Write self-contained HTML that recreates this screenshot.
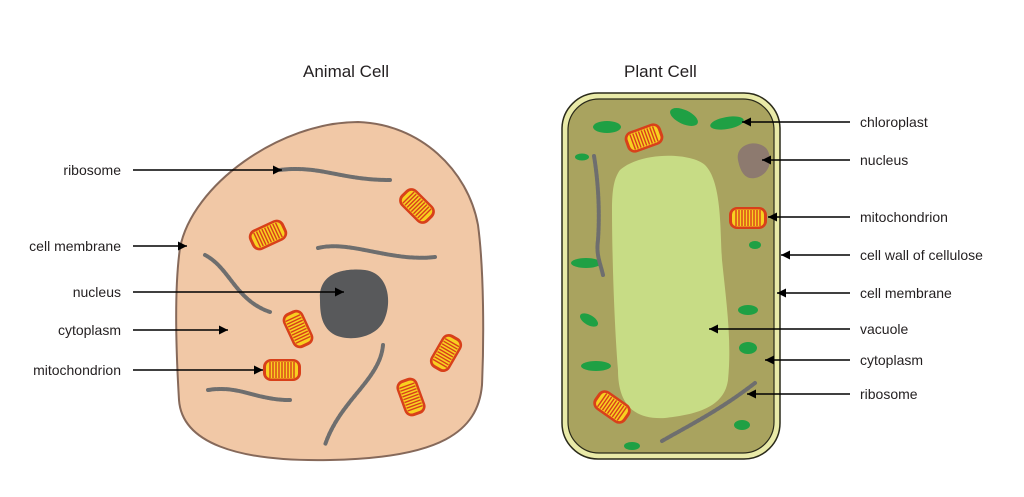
<!DOCTYPE html>
<html><head><meta charset="utf-8"><style>
html,body{margin:0;padding:0;background:#fff;}
svg{display:block;}
text{font-family:"Liberation Sans",sans-serif;font-size:14px;fill:#231f20;}
</style></head><body>
<svg width="1024" height="497" viewBox="0 0 1024 497" xmlns="http://www.w3.org/2000/svg">
<defs>
<marker id="ah" viewBox="0 0 10 10" refX="10" refY="5" markerWidth="9" markerHeight="9" markerUnits="userSpaceOnUse" orient="auto"><path d="M0,0 L10,5 L0,10 z" fill="#000"/></marker>
<g id="mito">
<rect x="-19" y="-11" width="38" height="22" rx="8" fill="#d8401a"/>
<rect x="-16" y="-8.5" width="32" height="17" rx="5" fill="#f8d020"/>
<g stroke="#d8401a" stroke-width="1.4">
<line x1="-12" y1="-8" x2="-12" y2="8"/><line x1="-9" y1="-8" x2="-9" y2="8"/><line x1="-6" y1="-8" x2="-6" y2="8"/><line x1="-3" y1="-8" x2="-3" y2="8"/><line x1="0" y1="-8" x2="0" y2="8"/><line x1="3" y1="-8" x2="3" y2="8"/><line x1="6" y1="-8" x2="6" y2="8"/><line x1="9" y1="-8" x2="9" y2="8"/><line x1="12" y1="-8" x2="12" y2="8"/>
</g>
</g>
</defs>

<text x="303" y="77" style="font-size:17px">Animal Cell</text>
<text x="624" y="77" style="font-size:17px">Plant Cell</text>

<path d="M180,248 C192,185 280,122 358,122 C420,124 468,170 478,225 C484,270 484,340 482,385 C478,432 440,458 330,460 C235,462 182,442 179,400 C176,350 174,290 180,248 Z" fill="#f1c8a6" stroke="#86695a" stroke-width="2"/>
<g fill="none" stroke="#6e6e6e" stroke-width="4" stroke-dasharray="3 1.5" stroke-linecap="round">
<path d="M280,170 C320,165 340,180 390,180"/>
<path d="M318,248 C350,240 390,262 435,257"/>
<path d="M205,255 C230,268 235,300 270,312"/>
<path d="M208,390 C240,385 255,400 290,400"/>
<path d="M383,345 C380,380 340,400 325,445"/>
</g>
<path d="M320,300 C318,272 345,268 365,270 C388,273 392,300 385,318 C378,338 350,342 335,335 C322,328 320,315 320,300 Z" fill="#58595b"/>
<use href="#mito" transform="translate(268,235) rotate(-25)"/>
<use href="#mito" transform="translate(417,206) rotate(45)"/>
<use href="#mito" transform="translate(298,329) rotate(65)"/>
<use href="#mito" transform="translate(282,370)"/>
<use href="#mito" transform="translate(446,353) rotate(-60)"/>
<use href="#mito" transform="translate(411,397) rotate(70)"/>

<rect x="562" y="93" width="218" height="366" rx="36" fill="#e9eaa8" stroke="#2a2a1a" stroke-width="1.5"/>
<rect x="568" y="99" width="206" height="354" rx="31" fill="#a9a35f" stroke="#2a2a1a" stroke-width="1.2"/>
<path d="M620,170 C640,152 690,152 705,165 C722,182 720,230 722,260 C726,300 732,340 728,380 C724,410 690,415 665,418 C630,420 618,400 618,370 C614,320 612,250 612,210 C612,190 614,178 620,170 Z" fill="#c7dc85"/>
<g fill="#1fa044">
<ellipse cx="607" cy="127" rx="14" ry="6"/>
<ellipse cx="684" cy="117" rx="15" ry="7" transform="rotate(25 684 117)"/>
<ellipse cx="727" cy="123" rx="17" ry="6" transform="rotate(-10 727 123)"/>
<ellipse cx="582" cy="157" rx="7" ry="3.5"/>
<ellipse cx="586" cy="263" rx="15" ry="5"/>
<ellipse cx="589" cy="320" rx="10" ry="5" transform="rotate(30 589 320)"/>
<ellipse cx="596" cy="366" rx="15" ry="5"/>
<ellipse cx="755" cy="245" rx="6" ry="4"/>
<ellipse cx="748" cy="310" rx="10" ry="5"/>
<ellipse cx="748" cy="348" rx="9" ry="6"/>
<ellipse cx="742" cy="425" rx="8" ry="5"/>
<ellipse cx="632" cy="446" rx="8" ry="4"/>
</g>
<path d="M738,160 C735,145 755,138 766,148 C774,158 770,175 755,178 C744,180 740,170 738,160 Z" fill="#8d7a6f"/>
<g fill="none" stroke="#6e6e6e" stroke-width="4" stroke-dasharray="3 1.5" stroke-linecap="round">
<path d="M594,156 C598,180 600,210 598,240 C596,255 600,262 603,275"/>
<path d="M662,441 C690,425 720,410 755,383"/>
</g>
<use href="#mito" transform="translate(644,138) rotate(-20)"/>
<use href="#mito" transform="translate(748,218)"/>
<use href="#mito" transform="translate(612,407) rotate(35)"/>

<g text-anchor="end">
<text x="121" y="175">ribosome</text>
<text x="121" y="251">cell membrane</text>
<text x="121" y="297">nucleus</text>
<text x="121" y="335">cytoplasm</text>
<text x="121" y="375">mitochondrion</text>
</g>
<g stroke="#000" stroke-width="1.5" marker-end="url(#ah)">
<line x1="133" y1="170" x2="282" y2="170"/>
<line x1="133" y1="246" x2="187" y2="246"/>
<line x1="133" y1="292" x2="344" y2="292"/>
<line x1="133" y1="330" x2="228" y2="330"/>
<line x1="133" y1="370" x2="263" y2="370"/>
</g>

<text x="860" y="127">chloroplast</text>
<text x="860" y="165">nucleus</text>
<text x="860" y="222">mitochondrion</text>
<text x="860" y="260">cell wall of cellulose</text>
<text x="860" y="298">cell membrane</text>
<text x="860" y="334">vacuole</text>
<text x="860" y="365">cytoplasm</text>
<text x="860" y="399">ribosome</text>
<g stroke="#000" stroke-width="1.5" marker-end="url(#ah)">
<line x1="850" y1="122" x2="742" y2="122"/>
<line x1="850" y1="160" x2="762" y2="160"/>
<line x1="850" y1="217" x2="768" y2="217"/>
<line x1="850" y1="255" x2="781" y2="255"/>
<line x1="850" y1="293" x2="777" y2="293"/>
<line x1="850" y1="329" x2="709" y2="329"/>
<line x1="850" y1="360" x2="765" y2="360"/>
<line x1="850" y1="394" x2="747" y2="394"/>
</g>
</svg>
</body></html>
